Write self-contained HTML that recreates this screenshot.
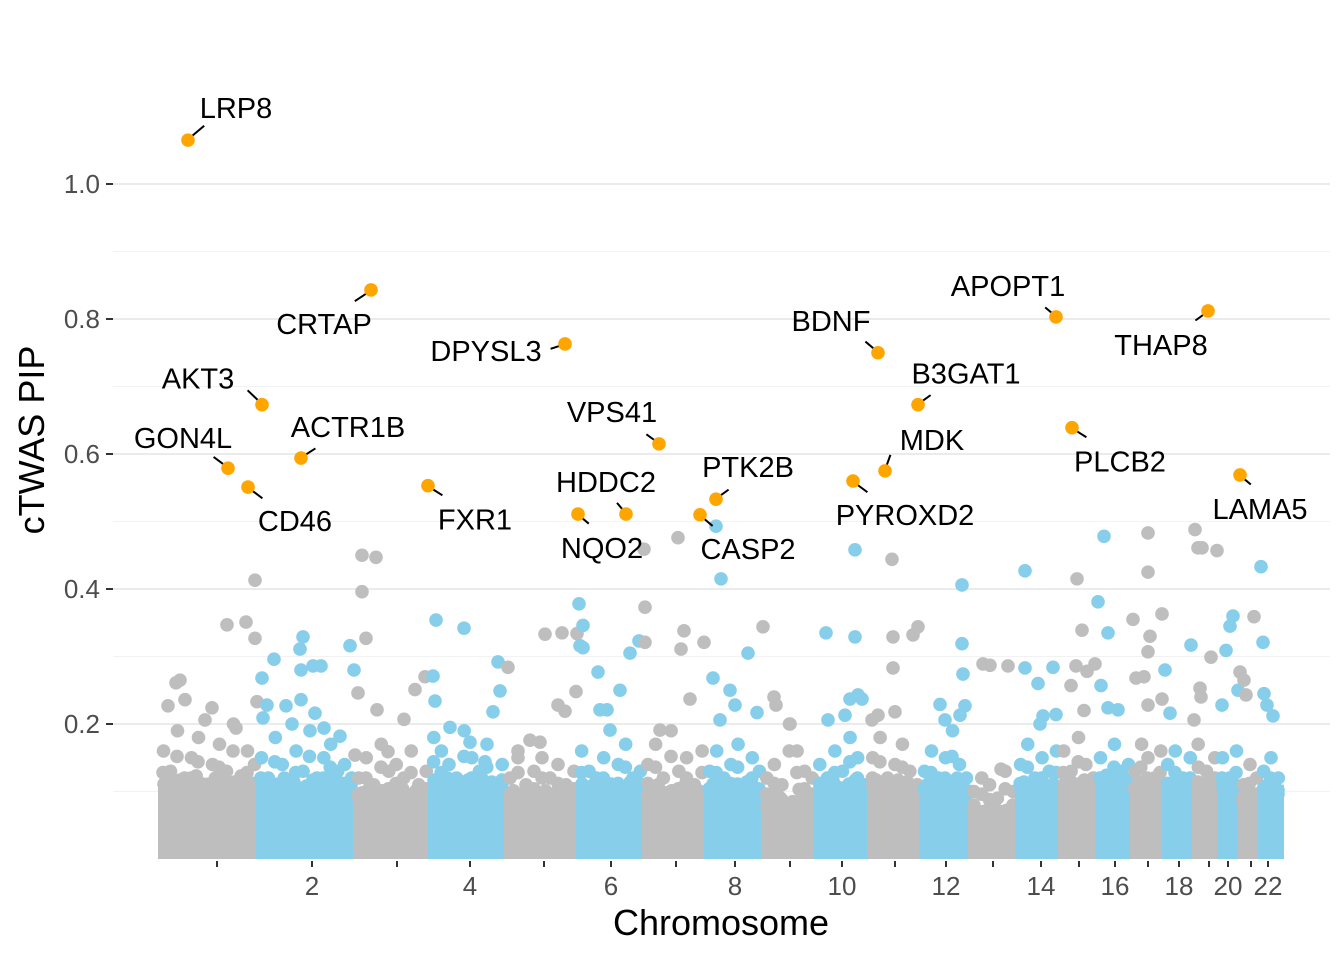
<!DOCTYPE html>
<html><head><meta charset="utf-8"><style>
body{margin:0;background:#fff;}
svg{display:block;font-family:"Liberation Sans",sans-serif;}
</style></head><body>
<svg id="chart" width="1344" height="960"></svg>
<script>
// ---- data ----
const chromosomes=["1","2","3","4","5","6","7","8","9","10","11","12","13","14","15","16","17","18","19","20","21","22"];
const chrEnds=[98,195,270,346,418,484,546,603,656,709,761,810,857,900,937,972,1004,1034,1059,1080,1100,1122];
const chrCenters=[57,152,237,310,384,451,516,575,630,682,735,786,833,881,919,955,988,1019,1049,1068,1091,1108];
const xTickLabels=["","2","","4","","6","","8","","10","","12","","14","","16","","18","","20","","22"];
const yTicks=[0.2,0.4,0.6,0.8,1.0];
const yTickLabels=["0.2","0.4","0.6","0.8","1.0"];
const bandTop=[0.11,0.11,0.1,0.11,0.1,0.11,0.1,0.11,0.09,0.11,0.11,0.11,0.08,0.11,0.11,0.12,0.11,0.11,0.11,0.11,0.1,0.11];
const midVals=[
[0.16,0.13,0.19,0.12,0.15,0.18,0.11,0.14,0.17,0.13,0.2,0.12,0.16,0.14],
[0.15,0.12,0.18,0.14,0.11,0.16,0.13,0.19,0.12,0.15,0.17,0.13,0.14,0.12],
[0.12,0.15,0.11,0.17,0.13,0.14,0.12,0.16,0.11,0.13],
[0.18,0.16,0.14,0.12,0.19,0.15,0.13,0.17,0.11,0.14],
[0.12,0.16,0.11,0.13,0.15,0.12,0.14,0.11,0.13],
[0.16,0.13,0.12,0.15,0.11,0.14,0.17,0.12,0.13],
[0.14,0.17,0.12,0.19,0.13,0.15,0.11,0.16],
[0.13,0.16,0.12,0.14,0.17,0.11,0.15,0.13],
[0.12,0.14,0.11,0.2,0.16,0.13,0.12],
[0.14,0.12,0.16,0.13,0.18,0.15,0.11],
[0.15,0.18,0.12,0.14,0.17,0.13,0.11],
[0.13,0.16,0.12,0.15,0.19,0.14,0.12],
[0.1,0.12,0.11,0.09,0.13,0.1],
[0.14,0.17,0.12,0.15,0.13,0.16],
[0.16,0.13,0.18,0.14,0.12],
[0.15,0.12,0.17,0.13,0.14],
[0.13,0.17,0.15,0.12,0.16],
[0.14,0.16,0.12,0.15],
[0.17,0.13,0.15],
[0.15,0.12,0.16],
[0.11,0.14,0.12],
[0.13,0.15,0.12]
];
const bgPos=[16,20,8,67,86,95,95,52,45,25,76,102,97,103,
114,143,140,141,153,161,126,141,107,132,155,164,180,190,194,198,
202,216,202,206,217,195,228,255,244,265,273,
276,304,275,290,338,348,340,333,310,325,
385,402,417,416,398,405,370,380,358,
419,423,420,423,438,440,447,484,479,470,460,450,
485,485,518,524,521,544,530,500,
561,556,553,570,575,588,597,560,
603,614,616,630,
666,695,695,690,698,702,668,685,
732,733,733,712,718,735,753,758,
802,802,803,780,805,800,785,
823,830,848,841,
865,865,878,893,883,896,880,
917,922,916,927,911,924,
944,938,948,941,935,948,958,
988,988,973,990,988,976,984,988,
1002,1005,1002,1010,
1035,1038,1042,1031,1040,1051,1041,1034,
1057,1066,1073,1070,1080,1078,1062,
1094,1084,1086,
1101,1103,1104,1107,1113];
const bgPip=[0.261,0.265,0.227,0.347,0.351,0.413,0.327,0.224,0.206,0.236,0.194,0.268,0.233,0.209,
0.296,0.329,0.311,0.28,0.286,0.286,0.227,0.236,0.228,0.2,0.216,0.194,0.182,0.316,0.28,0.246,
0.45,0.447,0.396,0.327,0.221,0.154,0.159,0.251,0.207,0.27,0.271,
0.354,0.342,0.234,0.195,0.292,0.284,0.249,0.218,0.173,0.144,
0.333,0.335,0.334,0.248,0.228,0.219,0.176,0.173,0.15,
0.378,0.346,0.316,0.313,0.277,0.221,0.221,0.459,0.323,0.305,0.25,0.191,
0.373,0.321,0.476,0.338,0.311,0.321,0.237,0.191,
0.415,0.493,0.268,0.25,0.228,0.305,0.217,0.206,
0.344,0.24,0.228,0.2,
0.335,0.329,0.458,0.237,0.243,0.237,0.206,0.213,
0.444,0.329,0.283,0.206,0.213,0.218,0.332,0.344,
0.406,0.319,0.274,0.229,0.227,0.213,0.206,
0.289,0.287,0.286,0.133,
0.427,0.283,0.26,0.284,0.212,0.214,0.2,
0.415,0.339,0.286,0.278,0.257,0.22,
0.478,0.381,0.335,0.257,0.289,0.224,0.221,
0.483,0.425,0.355,0.33,0.307,0.268,0.27,0.228,
0.363,0.28,0.237,0.216,
0.488,0.461,0.461,0.317,0.253,0.299,0.24,0.206,
0.457,0.309,0.36,0.345,0.277,0.25,0.228,
0.359,0.265,0.243,
0.433,0.321,0.245,0.228,0.212];
const genes=["LRP8","CRTAP","DPYSL3","AKT3","GON4L","CD46","ACTR1B","FXR1","VPS41","HDDC2","NQO2","PTK2B","CASP2","BDNF","B3GAT1","MDK","PYROXD2","APOPT1","THAP8","PLCB2","LAMA5"];
const genePos=[28,211,405,102,68,88,141,268,499,466,418,556,540,718,758,725,693,896,1048,912,1080];
const genePip=[1.065,0.843,0.763,0.673,0.579,0.551,0.594,0.553,0.615,0.511,0.511,0.533,0.510,0.750,0.673,0.575,0.560,0.803,0.812,0.639,0.569];
const labelOff=[[48,-32],[-47,34],[-79,7],[-64,-26],[-45,-30],[47,34],[47,-31],[47,34],[-47,-32],[-20,-32],[24,34],[32,-32],[48,34],[-47,-32],[48,-31],[47,-31],[52,34],[-48,-31],[-47,34],[48,34],[20,34]];
const lineEnd=[[9,-9],[-9,7],[-8,3],[-8,-9],[-8,-7],[8,7],[8,-6],[8,6],[-7,-6],[-5,-7],[6,6],[7,-6],[7,7],[-7,-7],[7,-6],[3,-10],[8,7],[-6,-6],[-7,6],[8,6],[6,6]];

// ---- scales ----
const X0=160, Y0=859, YS=675;
const xs=v=>X0+v;
const ys=v=>Y0-v*YS;
const svg=document.getElementById('chart');
const NS='http://www.w3.org/2000/svg';
function mk(tag,attrs,parent){const e=document.createElementNS(NS,tag);for(const k in attrs)e.setAttribute(k,attrs[k]);(parent||svg).appendChild(e);return e;}

for(let v=0.1;v<1.06;v+=0.2){const g=mk('line',{x1:113,x2:1330,y1:ys(v),y2:ys(v),stroke:'#f2f2f2','stroke-width':1});

}
yTicks.forEach((v,i)=>{const g=mk('line',{x1:113,x2:1330,y1:ys(v),y2:ys(v),stroke:'#ebebeb','stroke-width':2});


const t=mk('line',{x1:106,x2:113,y1:ys(v),y2:ys(v),stroke:'#333','stroke-width':2});


const l=mk('text',{x:100,y:ys(v)+9,'text-anchor':'end','font-size':26,fill:'#4d4d4d'});l.textContent=yTickLabels[i];

});

const colors=['#bebebe','#87ceeb'];
const R=6.8;
chromosomes.forEach((c,i)=>{
 const s=i?chrEnds[i-1]:0, e=chrEnds[i], col=colors[i%2];
 const g=mk('g',{});
 
 
 mk('rect',{x:xs(s)-2,y:ys(bandTop[i]),width:e-s+4,height:Y0-ys(bandTop[i]),fill:col},g);
 const n=midVals[i].length;
 for(let k=0;k<=n*2;k++){const p=mk('circle',{cx:xs(s)+4+(e-s-8)*k/(n*2),cy:ys(bandTop[i]-0.005+(midVals[i][k%n]-0.14)*0.3),r:R,fill:col},g);
  
  }
 midVals[i].forEach((v,k)=>{const p=mk('circle',{cx:xs(s+(e-s)*(k+0.5)/n),cy:ys(v),r:R,fill:col},g);
  
  
  const q=mk('circle',{cx:xs(s+(e-s)*(k+1)/n)-4,cy:ys(v*0.8),r:R,fill:col},g);
  
  });
 const tx=xs(chrCenters[i]);
 const t=mk('line',{x1:tx,x2:tx,y1:861,y2:867,stroke:'#333','stroke-width':2});
 
 
 const l=mk('text',{x:tx,y:895,'text-anchor':'middle','font-size':26,fill:'#4d4d4d'});l.textContent=xTickLabels[i];
 
 
});
function chrIdx(p){for(let i=0;i<chrEnds.length;i++)if(p<chrEnds[i])return i;return chrEnds.length-1;}
bgPos.forEach((p,k)=>{const c=mk('circle',{cx:xs(p),cy:ys(bgPip[k]),r:R,fill:colors[chrIdx(p)%2]});
 
 });
genes.forEach((g,k)=>{const x=xs(genePos[k]),y=ys(genePip[k]);
 const ln=mk('line',{x1:x+lineEnd[k][0]*0.5,y1:y+lineEnd[k][1]*0.5,x2:x+lineEnd[k][0]*1.8,y2:y+lineEnd[k][1]*1.6,stroke:'#000','stroke-width':2});
 
 
 const c=mk('circle',{cx:x,cy:y,r:R,fill:'#ffa500'});
 
 
 const t=mk('text',{x:x+labelOff[k][0],y:y+labelOff[k][1]+10,'text-anchor':'middle','font-size':29,fill:'#000'});t.textContent=g;
 
 
});
const xt=mk('text',{x:721,y:935,'text-anchor':'middle','font-size':36,fill:'#000'});xt.textContent='Chromosome';


const yt=mk('text',{x:0,y:0,transform:'translate(44,440) rotate(-90)','text-anchor':'middle','font-size':36,fill:'#000'});yt.textContent='cTWAS PIP';


</script>
</body></html>
